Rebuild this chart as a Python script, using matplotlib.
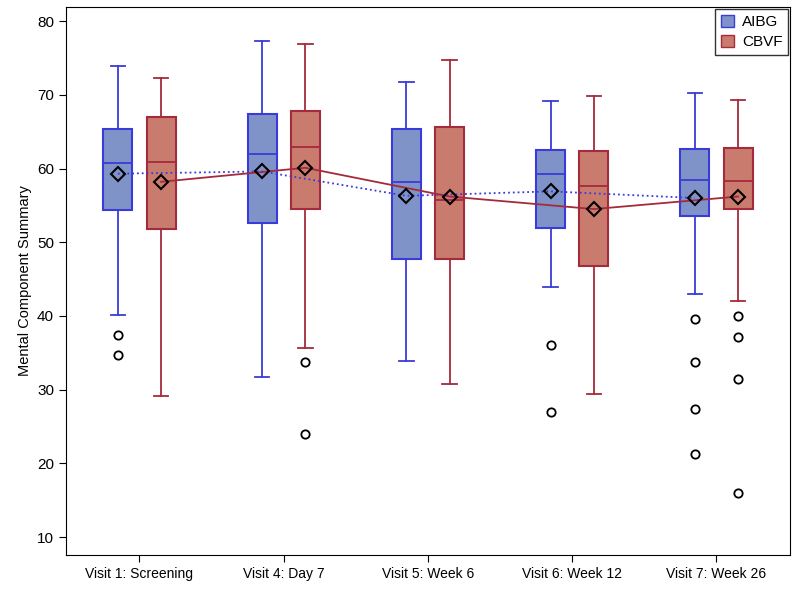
import numpy as np
import matplotlib.pyplot as plt
from matplotlib.patches import Patch

plt.rcParams['font.family'] = ['Liberation Sans', 'DejaVu Sans']

visits = ["Visit 1: Screening", "Visit 4: Day 7", "Visit 5: Week 6",
          "Visit 6: Week 12", "Visit 7: Week 26"]

# AIBG
aibg_low = [40.1, 31.7, 33.9, 43.9, 43.0]
aibg_q1 = [54.4, 52.6, 47.7, 52.0, 53.6]
aibg_med = [60.8, 62.0, 58.2, 59.3, 58.5]
aibg_q3 = [65.4, 67.4, 65.3, 62.5, 62.6]
aibg_high = [73.9, 77.3, 71.7, 69.2, 70.3]
aibg_mean = [59.3, 59.6, 56.3, 56.9, 56.0]
aibg_out = [[37.4, 34.7], [], [], [36.0, 27.0], [39.6, 33.8, 27.4, 21.3]]

# CBVF
cbvf_low = [29.2, 35.7, 30.8, 29.4, 42.0]
cbvf_q1 = [51.8, 54.5, 47.7, 46.8, 54.5]
cbvf_med = [60.9, 62.9, 55.7, 57.6, 58.3]
cbvf_q3 = [67.0, 67.8, 65.7, 62.4, 62.8]
cbvf_high = [72.3, 76.9, 74.7, 69.9, 69.3]
cbvf_mean = [58.2, 60.1, 56.2, 54.5, 56.2]
cbvf_out = [[], [33.7, 24.0], [], [], [40.0, 37.1, 31.4, 16.0]]

blue_fill, blue_edge = '#8093c8', '#3b3bd9'
red_fill, red_edge = '#c97b6e', '#a52a3c'


def make_stats(low, q1, med, q3, high, out):
    return [dict(whislo=low[i], q1=q1[i], med=med[i], q3=q3[i], whishi=high[i],
                 fliers=out[i]) for i in range(len(low))]


fig = plt.figure(figsize=(7.94, 5.89), dpi=100)
ax = fig.add_axes([0.083, 0.058, 0.912, 0.93])

x = np.arange(len(visits))
off = 0.15
w = 0.2

for stats, pos, fc, ec in [
    (make_stats(aibg_low, aibg_q1, aibg_med, aibg_q3, aibg_high, aibg_out), x - off, blue_fill, blue_edge),
    (make_stats(cbvf_low, cbvf_q1, cbvf_med, cbvf_q3, cbvf_high, cbvf_out), x + off, red_fill, red_edge),
]:
    ax.bxp(stats, positions=pos, widths=w, patch_artist=True, showfliers=True,
           boxprops=dict(facecolor=fc, edgecolor=ec, linewidth=1.5),
           medianprops=dict(color=ec, linewidth=1.3),
           whiskerprops=dict(color=ec, linewidth=1.3),
           capprops=dict(color=ec, linewidth=1.3),
           capwidths=w * 0.5,
           flierprops=dict(marker='o', markerfacecolor='none', markeredgecolor='black',
                           markersize=6, markeredgewidth=1.3))

ax.plot(x - off, aibg_mean, color=blue_edge, linestyle=':', linewidth=1.3, zorder=3)
ax.plot(x + off, cbvf_mean, color=red_edge, linestyle='-', linewidth=1.3, zorder=3)
ax.plot(x - off, aibg_mean, linestyle='none', marker='D', markerfacecolor='none',
        markeredgecolor='black', markersize=7, markeredgewidth=1.5, zorder=4)
ax.plot(x + off, cbvf_mean, linestyle='none', marker='D', markerfacecolor='none',
        markeredgecolor='black', markersize=7, markeredgewidth=1.5, zorder=4)

ax.set_xlim(-0.51, 4.51)
ax.set_ylim(7.6, 81.9)
ax.set_xticks(x)
ax.set_xticklabels(visits, fontsize=10)
ax.set_yticks(range(10, 81, 10))
ax.tick_params(axis='y', labelsize=11, length=5)
ax.tick_params(axis='x', length=5)
ax.set_ylabel("Mental Component Summary", fontsize=10.5)

handles = [Patch(facecolor=blue_fill, edgecolor=blue_edge, label='AIBG'),
           Patch(facecolor=red_fill, edgecolor=red_edge, label='CBVF')]
leg = ax.legend(handles=handles, loc='upper right', fontsize=11, handlelength=0.9,
                handleheight=0.9, fancybox=False, edgecolor='black',
                borderaxespad=0.15, handletextpad=0.5, labelspacing=0.35,
                borderpad=0.35)
leg.get_frame().set_linewidth(1.0)

fig.savefig("out.png", dpi=100)
